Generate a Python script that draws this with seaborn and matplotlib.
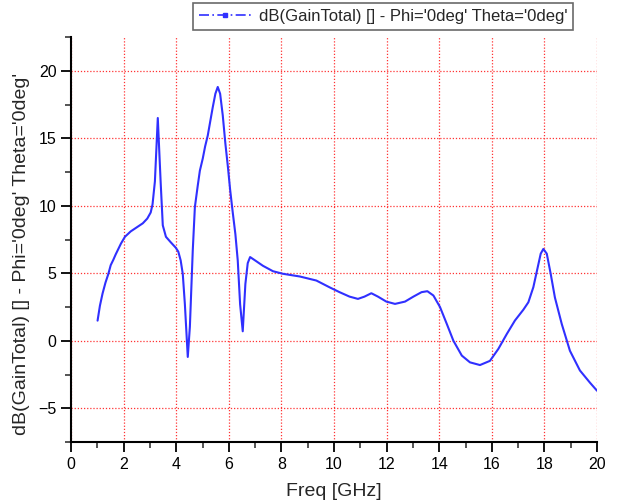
import matplotlib
matplotlib.use("Agg")
import matplotlib.pyplot as plt
import seaborn as sns
import pandas as pd
from matplotlib.lines import Line2D
from matplotlib.ticker import MultipleLocator

freq = [1.01,1.10,1.20,1.31,1.42,1.51,1.61,1.70,1.80,1.90,
        2.05,2.27,2.50,2.73,2.90,3.03,3.10,3.19,3.30,3.41,
        3.49,3.61,3.79,3.98,4.08,4.17,4.25,4.33,4.44,4.52,
        4.63,4.71,4.82,4.90,5.01,5.10,5.20,5.29,5.39,5.49,
        5.58,5.67,5.77,5.87,5.97,6.05,6.15,6.25,6.34,6.43,
        6.53,6.63,6.72,6.81,7.0,7.3,7.68,8.06,8.7,9.33,
        9.83,10.21,10.59,10.91,11.16,11.42,11.67,11.99,12.32,12.70,
        13.02,13.33,13.55,13.78,14.03,14.29,14.54,14.86,15.17,15.55,
        15.93,16.25,16.57,16.88,17.2,17.39,17.58,17.73,17.86,17.96,
        18.09,18.24,18.4,18.66,18.97,19.35,19.73,20.0]
gain = [1.49,2.6,3.5,4.3,4.95,5.6,6.0,6.4,6.8,7.2,
        7.7,8.1,8.4,8.7,9.05,9.5,10.1,11.8,16.5,11.7,
        8.55,7.7,7.3,6.9,6.6,5.95,4.95,2.7,-1.2,1.04,
        6.7,9.9,11.5,12.6,13.5,14.4,15.2,16.2,17.3,18.3,
        18.8,18.3,16.7,14.6,12.8,11.2,9.5,7.9,5.95,2.7,
        0.7,4.2,5.75,6.2,5.95,5.55,5.15,4.96,4.76,4.46,
        3.96,3.6,3.27,3.1,3.27,3.52,3.27,2.9,2.73,2.9,
        3.27,3.6,3.67,3.35,2.5,1.24,0.0,-1.1,-1.6,-1.8,
        -1.49,-0.6,0.5,1.5,2.3,2.85,3.97,5.3,6.45,6.8,
        6.45,4.95,3.2,1.24,-0.74,-2.2,-3.1,-3.7]

series_label = "dB(GainTotal) [] - Phi='0deg' Theta='0deg'"
x_label = "Freq [GHz]"
y_label = "dB(GainTotal) [] - Phi='0deg' Theta='0deg'"

sns.set_style("ticks")
plt.rcParams['font.family'] = ['Liberation Sans', 'DejaVu Sans']

df = pd.DataFrame({"freq": freq, "gain": gain})

fig = plt.figure(figsize=(6.19, 5.03), dpi=100)
ax = fig.add_axes([71/619, 1-442/503, (597-71)/619, (442-37)/503])

sns.lineplot(data=df, x="freq", y="gain", ax=ax, sort=False, estimator=None,
             color="#3030ff", linewidth=1.5)

ax.set_xlim(0, 20)
ax.set_ylim(-7.5, 22.5)
ax.xaxis.set_major_locator(MultipleLocator(2))
ax.xaxis.set_minor_locator(MultipleLocator(1))
ax.yaxis.set_major_locator(MultipleLocator(5))
ax.yaxis.set_minor_locator(MultipleLocator(2.5))
ax.grid(True, which="major", color="#ff3333", linestyle=(0, (1, 1.5)), linewidth=0.9)
ax.tick_params(which="major", direction="out", length=7, width=1.3, labelsize=11.5, colors="black")
ax.tick_params(which="minor", direction="out", length=4, width=1.1)
for s in ["top", "right"]:
    ax.spines[s].set_visible(False)
for s in ["left", "bottom"]:
    ax.spines[s].set_color("black")
    ax.spines[s].set_linewidth(1.5)

ax.set_xlabel(x_label, fontsize=14, labelpad=8)
ax.set_ylabel(y_label, fontsize=14)
ax.yaxis.set_label_coords(-0.078, 0.465)

handle = Line2D([], [], color="#3030ff", linewidth=1.2, marker="s", markersize=3,
                linestyle=(0, (6, 2, 1, 2)))
leg = fig.legend([handle], [series_label], loc="upper right",
                 bbox_to_anchor=(573/619, 1-3/503), fontsize=12, frameon=True,
                 fancybox=False, borderpad=0.35, handlelength=3.2, handletextpad=0.4,
                 borderaxespad=0)
leg.get_frame().set_edgecolor("#444444")
leg.get_frame().set_linewidth(1.2)

fig.savefig("out.png", dpi=100)
